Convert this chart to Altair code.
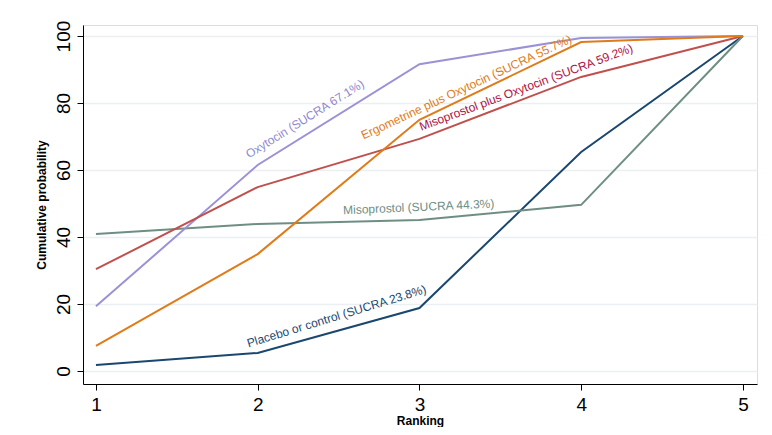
import altair as alt
import pandas as pd

ranks = [1, 2, 3, 4, 5]
series = [
    "Placebo or control",
    "Misoprostol",
    "Oxytocin",
    "Misoprostol plus Oxytocin",
    "Ergometrine plus Oxytocin",
]
placebo = [1.8, 5.4, 18.8, 65.4, 100]
misoprostol = [40.9, 43.9, 45.1, 49.6, 100]
oxytocin = [19.3, 61.5, 91.6, 99.4, 100]
miso_oxy = [30.4, 54.9, 69.3, 87.8, 100]
ergo_oxy = [7.5, 34.9, 75.0, 98.2, 100]
line_colors = ["#1a476f", "#6e8e84", "#9b92d6", "#c0504d", "#e07b1a"]

labels = [
    "Placebo or control (SUCRA 23.8%)",
    "Misoprostol (SUCRA 44.3%)",
    "Oxytocin  (SUCRA 67.1%)",
    "Misoprostol plus Oxytocin (SUCRA 59.2%)",
    "Ergometrine plus Oxytocin (SUCRA 55.7%)",
]
label_x = [1.95, 2.53, 1.96, 3.02, 2.665]
label_y = [5.9, 45.6, 62.4, 70.6, 68.0]
label_angle = [343, 357.5, 328, 339.5, 335]
label_colors = ["#1a476f", "#6e8e84", "#8f86d0", "#b0103e", "#e07b1a"]

rows = []
for name, vals in zip(series, [placebo, misoprostol, oxytocin, miso_oxy, ergo_oxy]):
    for r, v in zip(ranks, vals):
        rows.append({"series": name, "rank": r, "prob": v})
df = pd.DataFrame(rows)

lab = pd.DataFrame({
    "label": labels, "x": label_x, "y": label_y,
    "angle": label_angle, "color": label_colors,
})

xs = alt.Scale(domain=[0.92, 5.087], nice=False, zero=False)
ys = alt.Scale(domain=[-3.88, 103.3], nice=False, zero=False)

FONT = "Liberation Sans"

lines = alt.Chart(df).mark_line(strokeWidth=2).encode(
    x=alt.X("rank:Q", scale=xs, title="Ranking",
            axis=alt.Axis(values=ranks, format="d", grid=False, labelFontSize=19,
                          labelFont=FONT, labelPadding=5,
                          tickSize=6, tickColor="black", domainColor="black",
                          titleFontSize=12, titleFont=FONT,
                          titleFontWeight="bold", titlePadding=1, titleColor="black",
                          labelColor="black")),
    y=alt.Y("prob:Q", scale=ys, title="Cumulative probability",
            axis=alt.Axis(values=[0, 20, 40, 60, 80, 100], grid=True,
                          gridColor="#eaf0f1", gridWidth=1.5,
                          labelAngle=270, labelAlign="center", labelBaseline="bottom",
                          labelFontSize=19, labelFont=FONT,
                          labelPadding=4, tickSize=6, tickColor="black",
                          domainColor="black", titleFontSize=12,
                          titleFont=FONT, titleFontWeight="bold",
                          titlePadding=6, titleColor="black", labelColor="black")),
    color=alt.Color("series:N", scale=alt.Scale(domain=series, range=line_colors), legend=None),
    detail="series:N",
)

texts = alt.Chart(lab).mark_text(align="left", baseline="bottom", fontSize=12,
                                 font=FONT, dy=-1).encode(
    x=alt.X("x:Q", scale=xs),
    y=alt.Y("y:Q", scale=ys),
    text="label:N",
    angle=alt.Angle("angle:Q", scale=None),
    color=alt.Color("color:N", scale=None),
)

chart = (lines + texts).properties(
    width=674, height=359,
    autosize=alt.AutoSizeParams(type="none"),
    padding={"left": 75, "top": 17, "right": 7, "bottom": 43},
).configure_view(stroke=None).configure(background="white")

chart.save("out.html", embed_options={"renderer": "svg", "actions": False})
